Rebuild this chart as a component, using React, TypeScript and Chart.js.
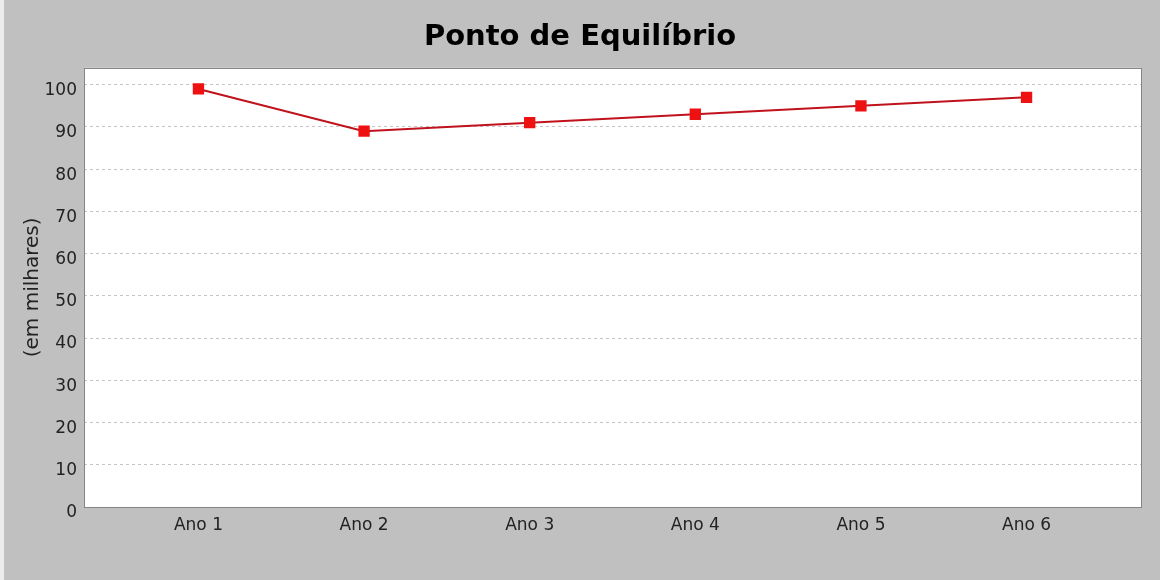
import React, { useEffect, useRef } from "react";
import { Chart, registerables } from "chart.js";

Chart.register(...registerables);

const categories: string[] = ["Ano 1", "Ano 2", "Ano 3", "Ano 4", "Ano 5", "Ano 6"];
const seriesValues: number[] = [99, 89, 91, 93, 95, 97];
const yTickValues: number[] = [0, 10, 20, 30, 40, 50, 60, 70, 80, 90, 100];
const chartTitle = "Ponto de Equilíbrio";
const yAxisTitle = "(em milhares)";

const FONT = "'DejaVu Sans', 'Liberation Sans', sans-serif";

const plotFramePlugin = {
  id: "plotFrame",
  beforeDraw(chart: any) {
    const { ctx, chartArea } = chart;
    ctx.save();
    ctx.fillStyle = "#ffffff";
    ctx.fillRect(chartArea.left, chartArea.top, chartArea.right - chartArea.left, chartArea.bottom - chartArea.top);
    ctx.restore();
  },
  afterDatasetsDraw(chart: any) {
    const { ctx, chartArea } = chart;
    ctx.save();
    ctx.strokeStyle = "#858585";
    ctx.lineWidth = 1;
    ctx.strokeRect(
      Math.round(chartArea.left) + 0.5,
      Math.round(chartArea.top) + 0.5,
      Math.round(chartArea.right - chartArea.left),
      Math.round(chartArea.bottom - chartArea.top)
    );
    ctx.restore();
  },
};

export default function App() {
  const canvasRef = useRef<HTMLCanvasElement | null>(null);

  useEffect(() => {
    if (!canvasRef.current) return;
    const chart = new Chart(canvasRef.current, {
      type: "line",
      data: {
        datasets: [
          {
            label: "Ponto de Equilíbrio",
            data: seriesValues.map((v, i) => ({ x: i, y: v })),
            borderColor: "#c0121c",
            backgroundColor: "#ee1111",
            borderWidth: 2,
            pointStyle: "rect",
            pointRadius: 8,
            pointBorderWidth: 0,
            pointBackgroundColor: "#ee1111",
            tension: 0,
          },
        ],
      },
      options: {
        animation: false,
        responsive: false,
        devicePixelRatio: 1,
        layout: { padding: 0 },
        plugins: {
          legend: { display: false },
          tooltip: { enabled: false },
          title: {
            display: true,
            text: chartTitle,
            color: "#000000",
            font: { family: FONT, size: 29, weight: "bold" },
            padding: { top: 20, bottom: 13 },
          },
        },
        scales: {
          x: {
            type: "linear",
            min: -0.691,
            max: 5.691,
            afterBuildTicks: (axis: any) => {
              axis.ticks = categories.map((_, i) => ({ value: i }));
            },
            afterFit: (scale: any) => {
              scale.height = 73;
            },
            grid: { display: false, drawTicks: false },
            border: { display: false },
            ticks: {
              padding: 8,
              color: "#222222",
              font: { family: FONT, size: 17 },
              callback: (value: any) => categories[Math.round(Number(value))] ?? "",
              maxRotation: 0,
              autoSkip: false,
            },
          },
          y: {
            type: "linear",
            min: 0,
            max: 104,
            afterBuildTicks: (axis: any) => {
              axis.ticks = yTickValues.map((v) => ({ value: v }));
            },
            afterFit: (scale: any) => {
              scale.width = 84;
            },
            grid: {
              color: "#c4c4c4",
              lineWidth: 1,
              drawTicks: false,
            },
            border: { display: false, dash: [3, 3] },
            ticks: {
              padding: 7,
              labelOffset: 6,
              color: "#222222",
              font: { family: FONT, size: 17 },
            },
            title: {
              display: true,
              text: yAxisTitle,
              color: "#222222",
              font: { family: FONT, size: 20 },
              padding: { top: 21, bottom: 0 },
            },
          },
          yRightSpacer: {
            type: "linear",
            position: "right",
            display: true,
            min: 0,
            max: 1,
            afterFit: (scale: any) => {
              scale.width = 19;
            },
            grid: { display: false, drawTicks: false },
            border: { display: false },
            ticks: { display: false },
          },
        },
      },
      plugins: [plotFramePlugin],
    } as any);
    return () => chart.destroy();
  }, []);

  return (
    <div
      style={{
        position: "fixed",
        left: 0,
        top: 0,
        width: 1160,
        height: 580,
        background: "linear-gradient(to right, #ececec 0px, #ececec 4px, #c0c0c0 4px, #c0c0c0 100%)",
      }}
    >
      <canvas ref={canvasRef} width={1160} height={580} style={{ display: "block" }} />
    </div>
  );
}
